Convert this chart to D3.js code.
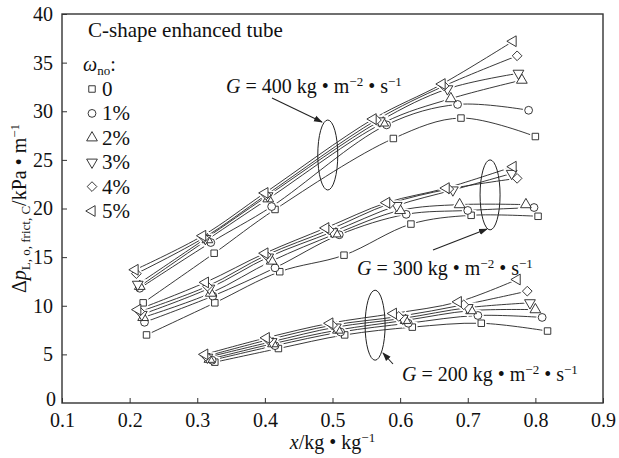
<!DOCTYPE html>
<html>
<head>
<meta charset="utf-8">
<script src="https://cdn.jsdelivr.net/npm/d3@7"></script>
<style>
  body { margin: 0; background: #fff; }
  .curve { fill: none; stroke: #222; stroke-width: 0.9; }
  .mark { fill: #fff; stroke: #222; stroke-width: 0.9; }
  .halo { fill: #fff; stroke: #fff; stroke-width: 4; }
</style>
</head>
<body>
<script>
// oil concentration series (legend)
const oilLabels = ['0', '1%', '2%', '3%', '4%', '5%'];
const xTicks = [0.1, 0.2, 0.3, 0.4, 0.5, 0.6, 0.7, 0.8, 0.9];
const yTicks = [0, 5, 10, 15, 20, 25, 30, 35, 40];

// G = 400 kg/m2s : vapour quality and pressure gradient per series
const g400x = [
  [0.22, 0.325, 0.415, 0.59, 0.69, 0.80],
  [0.215, 0.32, 0.41, 0.58, 0.685, 0.79],
  [0.215, 0.315, 0.405, 0.575, 0.675, 0.78],
  [0.212, 0.312, 0.404, 0.57, 0.67, 0.775],
  [0.21, 0.31, 0.402, 0.565, 0.665, 0.773],
  [0.208, 0.308, 0.40, 0.56, 0.662, 0.767]
];
const g400y = [
  [10.3, 15.4, 19.9, 27.2, 29.3, 27.4],
  [11.8, 16.5, 20.2, 28.6, 30.7, 30.1],
  [12.0, 16.8, 21.0, 28.8, 31.3, 33.2],
  [12.2, 16.9, 21.3, 29.0, 32.3, 33.9],
  [13.3, 17.0, 21.4, 29.1, 32.6, 35.7],
  [13.7, 17.2, 21.6, 29.2, 32.8, 37.2]
];

// G = 300
const g300x = [
  [0.225, 0.326, 0.422, 0.517, 0.616, 0.705, 0.804],
  [0.222, 0.323, 0.415, 0.51, 0.609, 0.70, 0.798],
  [0.22, 0.32, 0.41, 0.505, 0.60, 0.688, 0.786],
  [0.218, 0.318, 0.405, 0.50, 0.595, 0.678, 0.765],
  [0.215, 0.315, 0.402, 0.495, 0.585, 0.672, 0.773],
  [0.212, 0.312, 0.40, 0.49, 0.58, 0.668, 0.767]
];
const g300y = [
  [7.0, 10.3, 13.5, 15.2, 18.4, 19.3, 19.2],
  [8.3, 11.0, 13.9, 17.3, 19.4, 19.8, 20.1],
  [8.8, 11.3, 14.6, 17.4, 19.8, 20.4, 20.4],
  [9.1, 11.8, 15.0, 17.6, 20.3, 21.9, 23.6],
  [9.4, 12.0, 15.2, 17.8, 20.5, 22.0, 23.1],
  [9.6, 12.4, 15.4, 18.0, 20.6, 22.1, 24.3]
];

// G = 200
const g200x = [
  [0.326, 0.42, 0.518, 0.618, 0.72, 0.818],
  [0.322, 0.415, 0.512, 0.612, 0.715, 0.81],
  [0.318, 0.412, 0.508, 0.608, 0.705, 0.80],
  [0.315, 0.41, 0.505, 0.604, 0.70, 0.792],
  [0.313, 0.405, 0.50, 0.598, 0.694, 0.788],
  [0.311, 0.402, 0.496, 0.59, 0.686, 0.773]
];
const g200y = [
  [4.2, 5.6, 7.0, 7.8, 8.2, 7.4],
  [4.4, 5.9, 7.3, 8.2, 9.0, 8.8],
  [4.5, 6.1, 7.5, 8.5, 9.5, 9.6],
  [4.7, 6.3, 7.8, 8.7, 9.8, 10.3],
  [4.8, 6.5, 8.0, 8.9, 10.1, 11.5],
  [5.0, 6.7, 8.2, 9.2, 10.4, 12.7]
];

const W = 619, H = 458;
const margin = { top: 14, right: 16, bottom: 55, left: 62 };

const svg = d3.select('body').append('svg')
  .attr('width', W).attr('height', H);

const x = d3.scaleLinear().domain([0.1, 0.9]).range([margin.left, W - margin.right]);
const y = d3.scaleLinear().domain([0, 40]).range([H - margin.bottom, margin.top]);

// marker shapes for each series
const symbols = [
  { type: d3.symbolSquare, size: 42, rot: 0 },
  { type: d3.symbolCircle, size: 48, rot: 0 },
  { type: d3.symbolTriangle, size: 50, rot: 0 },
  { type: d3.symbolTriangle, size: 50, rot: 180 },
  { type: d3.symbolDiamond2, size: 60, rot: 0 },
  { type: d3.symbolTriangle, size: 50, rot: -90 }
];
const symPath = i => d3.symbol().type(symbols[i].type).size(symbols[i].size)();

// frame
svg.append('rect')
  .attr('x', x(0.1)).attr('y', y(40))
  .attr('width', x(0.9) - x(0.1)).attr('height', y(0) - y(40))
  .attr('fill', 'none').attr('stroke', '#333').attr('stroke-width', 1.4);

// axes with inward ticks
svg.append('g')
  .attr('transform', `translate(0,${y(0)})`)
  .call(d3.axisBottom(x).tickValues(xTicks).tickSize(-5).tickPadding(10).tickFormat(d3.format('.1f')))
  .call(g => g.select('.domain').remove())
  .call(g => g.selectAll('line').attr('stroke', '#333'))
  .call(g => g.selectAll('text').attr('class', 'tick-label'));

svg.append('g')
  .attr('transform', `translate(${x(0.1)},0)`)
  .call(d3.axisLeft(y).tickValues(yTicks.filter(d => d > 0)).tickSize(-5).tickPadding(9))
  .call(g => g.select('.domain').remove())
  .call(g => g.selectAll('line').attr('stroke', '#333'))
  .call(g => g.selectAll('text').attr('class', 'tick-label'));

svg.append('text').attr('class', 'tick-label')
  .attr('x', x(0.1) - 6).attr('y', y(0) + 3).attr('text-anchor', 'end').text('0');

// curves, then white halos (gaps in the lines), then hollow markers
const line = d3.line().curve(d3.curveCatmullRom.alpha(0.5));
const groups = [[g400x, g400y], [g300x, g300y], [g200x, g200y]];
const pointsOf = (gx, gy, i) => gx[i].map((v, j) => [x(v), y(gy[i][j])]);
groups.forEach(([gx, gy]) => {
  gx.forEach((xs, i) => {
    svg.append('path').attr('class', 'curve').attr('d', line(pointsOf(gx, gy, i)));
  });
});
['halo', 'mark'].forEach(cls => {
  groups.forEach(([gx, gy]) => {
    gx.forEach((xs, i) => {
      svg.append('g').selectAll('path')
        .data(pointsOf(gx, gy, i))
        .join('path')
        .attr('class', cls)
        .attr('d', symPath(i))
        .attr('transform', d => `translate(${d}) rotate(${symbols[i].rot})`);
    });
  });
});

// title inside plot
svg.append('text')
  .attr('x', 88).attr('y', 37)
  .attr('font-size', 21)
  .text('C-shape enhanced tube');

// legend
const lg = svg.append('g');
lg.append('text').attr('x', 83).attr('y', 71).attr('font-size', 20)
  .call(t => {
    t.append('tspan').attr('font-style', 'italic').text('ω');
    t.append('tspan').attr('dy', 4).attr('font-size', 13).text('no');
    t.append('tspan').attr('dy', -4).text(':');
  });
const item = lg.selectAll('g.item').data(oilLabels).join('g')
  .attr('class', 'item')
  .attr('transform', (d, i) => `translate(92,${89 + i * 24.4})`);
item.append('path').attr('class', 'mark')
  .attr('d', (d, i) => symPath(i))
  .attr('transform', (d, i) => `rotate(${symbols[i].rot})`);
item.append('text').attr('x', 10).attr('y', 7).attr('font-size', 21).text(d => d);

// G annotations: label, arrow, ellipse
svg.append('defs').append('marker')
  .attr('id', 'arrow').attr('viewBox', '0 0 10 10')
  .attr('refX', 9).attr('refY', 5)
  .attr('markerWidth', 8).attr('markerHeight', 8)
  .attr('orient', 'auto')
  .append('path').attr('d', 'M0,1.5 L10,5 L0,8.5 Z').attr('fill', '#222');

const gLabel = (gx, gy, g) => {
  svg.append('text').attr('x', gx).attr('y', gy).attr('font-size', 20)
    .call(t => {
      t.append('tspan').attr('font-style', 'italic').text('G');
      t.append('tspan').text(` = ${g} kg • m`);
      t.append('tspan').attr('dy', -7).attr('font-size', 13).text('−2');
      t.append('tspan').attr('dy', 7).text(' • s');
      t.append('tspan').attr('dy', -7).attr('font-size', 13).text('−1');
    });
};
const ellipse = (cx, cy) => svg.append('ellipse')
  .attr('cx', x(cx)).attr('cy', y(cy)).attr('rx', 10).attr('ry', 35)
  .attr('fill', 'none').attr('stroke', '#222').attr('stroke-width', 1);
const arrow = (x1, y1, x2, y2) => svg.append('line')
  .attr('x1', x1).attr('y1', y1).attr('x2', x2).attr('y2', y2)
  .attr('stroke', '#222').attr('stroke-width', 1.1).attr('marker-end', 'url(#arrow)');

gLabel(226, 93, 400);
ellipse(0.493, 25.5);
arrow(272, 98, 322, 122);

gLabel(357, 275, 300);
ellipse(0.733, 21.4);
arrow(433, 250, 487, 229);

gLabel(402, 381, 200);
ellipse(0.563, 8.0);
arrow(393, 364, 383, 353);

// axis titles
svg.append('text')
  .attr('x', (x(0.1) + x(0.9)) / 2).attr('y', 449)
  .attr('text-anchor', 'middle').attr('font-size', 20)
  .call(t => {
    t.append('tspan').attr('font-style', 'italic').text('x');
    t.append('tspan').text('/kg • kg');
    t.append('tspan').attr('dy', -7).attr('font-size', 13).text('−1');
  });

svg.append('text')
  .attr('transform', `translate(26,${(y(0) + y(40)) / 2}) rotate(-90)`)
  .attr('text-anchor', 'middle').attr('font-size', 20)
  .call(t => {
    t.append('tspan').text('Δ');
    t.append('tspan').attr('font-style', 'italic').text('p');
    t.append('tspan').attr('dy', 4).attr('font-size', 13).text('L, o, frict, C');
    t.append('tspan').attr('dy', -4).text('/kPa • m');
    t.append('tspan').attr('dy', -7).attr('font-size', 13).text('−1');
  });

// serif face on every text and tspan
svg.selectAll('g').attr('font-family', null).attr('font-size', null);
svg.selectAll('text, tspan').attr('font-family', 'Liberation Serif');
svg.selectAll('text').attr('fill', '#111');
svg.selectAll('.tick-label').attr('font-size', 20);
</script>
</body>
</html>
